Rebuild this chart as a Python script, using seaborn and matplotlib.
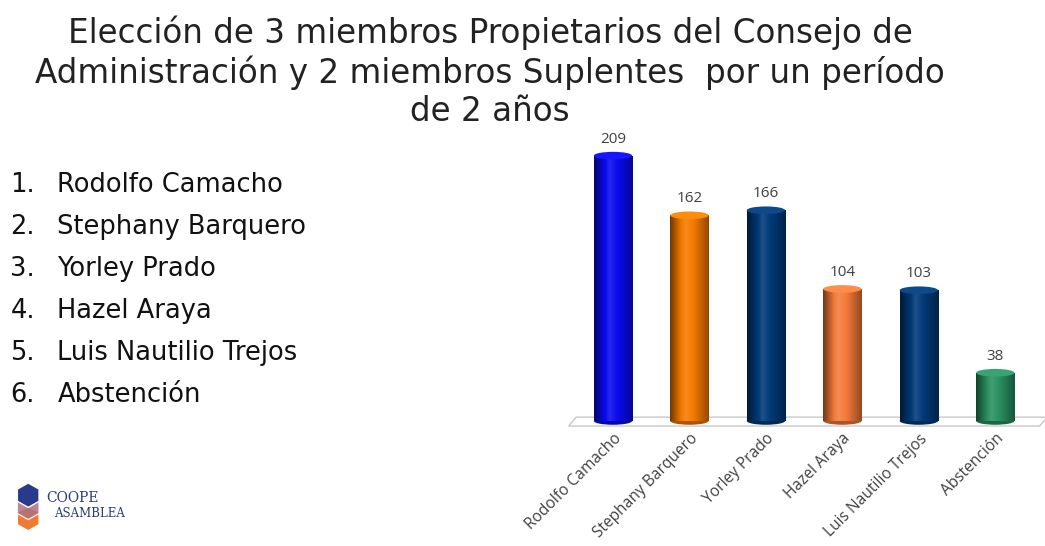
import numpy as np
import matplotlib.pyplot as plt
import seaborn as sns
from matplotlib.patches import Ellipse, Polygon, RegularPolygon
from matplotlib.colors import to_rgb

candidatos = ["Rodolfo Camacho", "Stephany Barquero", "Yorley Prado",
              "Hazel Araya", "Luis Nautilio Trejos", "Abstención"]
votos = [209, 162, 166, 104, 103, 38]
colores = ["#0A0AF0", "#F57A00", "#003A78", "#F47A3A", "#003A78", "#2A9060"]
lista = ["Rodolfo Camacho", "Stephany Barquero", "Yorley Prado",
         "Hazel Araya", "Luis Nautilio Trejos", "Abstención"]
titulo = ("Elección de 3 miembros Propietarios del Consejo de\n"
          "Administración y 2 miembros Suplentes  por un período\n"
          "de 2 años")

sns.set_style("white")
plt.rcParams['font.family'] = ['Open Sans', 'DejaVu Sans']

fig = plt.figure(figsize=(10.45, 5.46), dpi=100)
ax = fig.add_axes([0.550, 0.229, 0.439, 0.558])

sns.barplot(x=candidatos, y=votos, hue=candidatos, palette=colores,
            width=0.5, legend=False, ax=ax, saturation=1, linewidth=0)
ax.set_xlim(-0.5, 5.5)
ax.set_ylim(0, 240)
sns.despine(ax=ax, left=True, bottom=True)
ax.set_yticks([])
ax.set_xlabel("")
ax.set_ylabel("")

# piso del grafico 3d
piso = Polygon([(-0.58, -4), (5.58, -4), (5.68, 3), (-0.48, 3)], closed=True,
               facecolor="white", edgecolor="#c8c8c8", lw=1, clip_on=False, zorder=0.5)
ax.add_patch(piso)

# sombreado de cilindro
t = np.linspace(0, 1, 200)
for patch, c, v in zip(ax.patches, colores, votos):
    base = np.array(to_rgb(c))
    shade = np.where(t < 0.4, 0.45 + 0.75 * (t / 0.4), 1.2 - 0.6 * ((t - 0.4) / 0.6))
    img = np.clip(base[None, :] * shade[:, None], 0, 1)
    img = np.where(shade[:, None] > 1.0, base + (1 - base) * (shade[:, None] - 1.0) * 0.6, img)
    x0 = patch.get_x()
    w = patch.get_width()
    im = ax.imshow(img[None, :, :], extent=[x0, x0 + w, 0, v], aspect='auto', zorder=2)
    im.set_clip_path(patch)
    cx = x0 + w / 2
    ax.add_patch(Ellipse((cx, 0), w, 6, facecolor=base * 0.7, edgecolor='none',
                         zorder=1.5, clip_on=False))
    ax.add_patch(Ellipse((cx, v), w, 6, facecolor=np.clip(base * 1.05 + 0.05, 0, 1),
                         edgecolor='none', zorder=3))
    ax.text(cx, v + 7, str(v), ha='center', va='bottom', fontsize=11, color="#404040")

ax.set_xticks(range(len(candidatos)))
ax.set_xticklabels(candidatos, rotation=45, ha='right', rotation_mode='anchor',
                   fontsize=11.2, color="#404040")
ax.tick_params(axis='x', length=0, pad=7)
ax.set_xlim(-0.5, 5.5)

fig.text(0.469, 0.972, titulo, ha='center', va='top', fontsize=23.5,
         family='DejaVu Sans', color="#222222", linespacing=1.2)

for i, nombre in enumerate(lista):
    y = 1 - (185 + 42 * i) / 546
    fig.text(0.010, y, f"{i + 1}.", ha='left', va='center', fontsize=18.5,
             family='DejaVu Sans', color="#111111")
    fig.text(0.055, y, nombre, ha='left', va='center', fontsize=18.5,
             family='DejaVu Sans', color="#111111")

# logo
lax = fig.add_axes([0.0, 0.0, 0.2, 0.16])
lax.set_xlim(0, 200)
lax.set_ylim(0, 86)
lax.axis('off')
lax.add_patch(RegularPolygon((27, 27), 6, radius=12, facecolor="#F07A30"))
lax.add_patch(RegularPolygon((27, 38), 6, radius=12, facecolor="#B07080", alpha=0.85))
lax.add_patch(RegularPolygon((27, 50), 6, radius=12, facecolor="#2A3A8A"))
lax.text(44, 47, "COOPE", fontsize=10, family="DejaVu Serif", color="#2A3A7A", va='center')
lax.text(52, 32, "ASAMBLEA", fontsize=8.5, family="DejaVu Serif", color="#2A3A7A", va='center')

plt.savefig("out.png", dpi=100)
